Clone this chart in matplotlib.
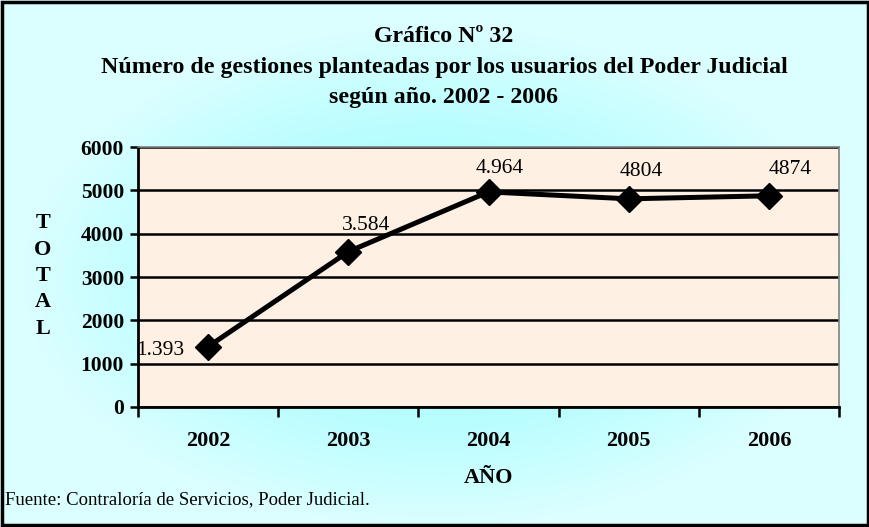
import numpy as np
import matplotlib.pyplot as plt
from matplotlib.ticker import FixedLocator

# data
years = ['2002', '2003', '2004', '2005', '2006']
totals = [1393, 3584, 4964, 4804, 4874]
labels = ['1.393', '3.584', '4.964', '4804', '4874']

plt.rcParams['font.family'] = ['Liberation Serif', 'DejaVu Serif']

fig = plt.figure(figsize=(8.7, 5.27), dpi=100)

# background gradient (cyan centre fading out)
bg = fig.add_axes([0, 0, 1, 1], zorder=-5)
yy, xx = np.mgrid[-1:1:300j, -1:1:500j]
r = np.clip(np.sqrt((xx / 0.95) ** 2 + ((yy + 0.05) / 0.95) ** 2), 0, 1)
c0 = np.array([0.62, 0.99, 1.0])
c1 = np.array([0.86, 1.0, 1.0])
img = c0 + (c1 - c0) * r[..., None] ** 1.5
bg.imshow(img, aspect='auto', extent=[0, 1, 0, 1], origin='lower')
bg.set_xlim(0, 1)
bg.set_ylim(0, 1)
bg.axis('off')
bg.add_patch(plt.Rectangle((0.002, 0.003), 0.996, 0.994, fill=False,
                           edgecolor='black', linewidth=2.5, transform=bg.transAxes))

ax = fig.add_axes([138 / 870, 1 - 407 / 527, 701 / 870, 260 / 527])
ax.set_facecolor('#FFF0E4')
x = np.arange(len(years))
ax.plot(x, totals, color='black', linewidth=3.6, marker='D', markersize=13, zorder=3)

ax.set_xlim(-0.5, 4.5)
ax.set_ylim(0, 6000)
ax.set_yticks(range(0, 7000, 1000))
ax.set_xticks(x)
ax.set_xticklabels(years)
ax.xaxis.set_minor_locator(FixedLocator(np.arange(-0.5, 5, 1)))
ax.tick_params(axis='x', which='major', length=0, pad=17, labelsize=16)
ax.tick_params(axis='x', which='minor', length=7, width=1.8, direction='out')
ax.tick_params(axis='y', length=6, width=1.8, labelsize=15.5, pad=4)
for t in ax.get_xticklabels() + ax.get_yticklabels():
    t.set_fontweight('bold')

ax.grid(axis='y', color='black', linewidth=1.8)
ax.set_axisbelow(True)
for s in ['top', 'right']:
    ax.spines[s].set_color('#808080')
    ax.spines[s].set_linewidth(1.2)
for s in ['left', 'bottom']:
    ax.spines[s].set_linewidth(2)

# value labels
offsets = [(-0.34, -80), (0.13, 616), (0.08, 551), (0.09, 620), (0.15, 615)]
for i, (v, lab) in enumerate(zip(totals, labels)):
    dx, dy = offsets[i]
    ax.text(i + dx, v + dy, lab, ha='center', va='center', fontsize=15.5)

tx = 444 / 870
fig.text(tx, 1 - 37 / 527, 'Gráfico Nº 32', ha='center', va='center',
         fontsize=17.2, fontweight='bold')
fig.text(tx, 1 - 68 / 527, 'Número de gestiones planteadas por los usuarios del Poder Judicial',
         ha='center', va='center', fontsize=17.2, fontweight='bold')
fig.text(tx, 1 - 98 / 527, 'según año. 2002 - 2006', ha='center', va='center',
         fontsize=17.2, fontweight='bold')

fig.text(489 / 870, 1 - 478 / 527, 'AÑO', ha='center', va='center', fontsize=16, fontweight='bold')
fig.text(43 / 870, 1 - 276 / 527, 'T\nO\nT\nA\nL', ha='center', va='center',
         fontsize=16, fontweight='bold', linespacing=1.43)
fig.text(5 / 870, 1 - 500 / 527, 'Fuente: Contraloría de Servicios, Poder Judicial.',
         ha='left', va='center', fontsize=13.5)

fig.savefig('out.png', dpi=100)
